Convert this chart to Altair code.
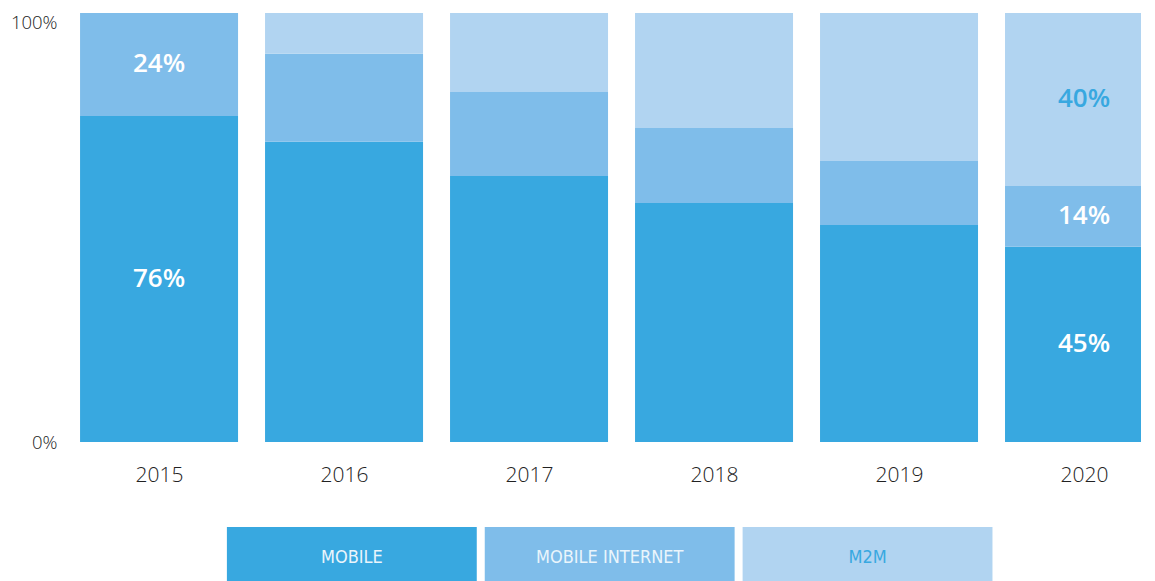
import altair as alt
import pandas as pd

years = ["2015", "2016", "2017", "2018", "2019", "2020"]
series = ["MOBILE", "MOBILE INTERNET", "M2M"]
mobile = [76, 70, 62, 55.7, 50.6, 45.5]
internet = [24, 20.5, 19.6, 17.5, 14.9, 14.2]
m2m = [0, 9.5, 18.4, 26.8, 34.5, 40.3]
labels_mobile = ["76%", "", "", "", "", "45%"]
labels_internet = ["24%", "", "", "", "", "14%"]
labels_m2m = ["", "", "", "", "", "40%"]
colors = ["#38A8E0", "#7FBDEA", "#B1D4F1"]

rows = []
for i, y in enumerate(years):
    for k, (s, vals, labs) in enumerate(zip(series, [mobile, internet, m2m],
                                            [labels_mobile, labels_internet, labels_m2m])):
        rows.append({"year": y, "idx": i, "series": s, "order": k, "value": vals[i], "label": labs[i]})
df = pd.DataFrame(rows)

year_expr = "[" + ",".join("'%s'" % y for y in years) + "][datum.value]"

color_scale = alt.Scale(domain=series, range=colors)
x_scale = alt.Scale(domain=[-0.503, 5.308], nice=False, zero=False, padding=0)
x_enc = alt.X("idx:Q", title=None, scale=x_scale,
              axis=alt.Axis(values=list(range(len(years))), labelExpr=year_expr,
                            grid=False, ticks=False, domain=False, labelPadding=22,
                            labelFontSize=21, labelFont="Open Sans", labelFontWeight=300,
                            labelColor="#222222", labelFlush=False))

base = alt.Chart(df).transform_stack(
    stack="value", as_=["y0", "y1"], groupby=["year"],
    sort=[alt.SortField("order", order="ascending")]
).transform_calculate(mid="(datum.y0 + datum.y1) / 2")

bars = base.mark_bar(clip=True, size=158).encode(
    x=x_enc,
    y=alt.Y("y0:Q", title=None, scale=alt.Scale(domain=[0, 100], nice=False),
            axis=alt.Axis(values=[0, 100], labelExpr="datum.value + '%'", grid=False,
                          ticks=False, domain=False, labelPadding=9, labelFontSize=18.5,
                          labelFont="Open Sans", labelFontWeight=300, labelColor="#222222",
                          labelBaseline=alt.ExprRef("datum.value == 100 ? 'top' : 'middle'"))),
    y2="y1:Q",
    color=alt.Color("series:N", scale=color_scale, legend=None),
)

texts = base.transform_filter("datum.label != ''").mark_text(
    font="Open Sans", fontSize=26, fontWeight=600, baseline="middle"
).encode(
    x=alt.X("idx:Q"),
    y=alt.Y("mid:Q"),
    text="label:N",
    color=alt.condition(alt.datum.series == "M2M", alt.value("#38A8E0"), alt.value("#FFFFFF")),
)

main = alt.layer(bars, texts).properties(width=1075, height=429)

leg_df = pd.DataFrame({"series": series})
leg_base = alt.Chart(leg_df).encode(
    x=alt.X("series:N", sort=series, title=None,
            scale=alt.Scale(paddingInner=0.031, paddingOuter=0.6, align=0.52), axis=None)
)
leg_rect = leg_base.mark_bar().encode(
    color=alt.Color("series:N", scale=color_scale, legend=None)
)
leg_text = leg_base.mark_text(font="DejaVu Sans Condensed", fontSize=18, baseline="middle").encode(
    y=alt.value(31),
    text="series:N",
    color=alt.condition(alt.datum.series == "M2M", alt.value("#38A8E0"), alt.value("#EAF5FC")),
)
legend = alt.layer(leg_rect, leg_text).properties(width=1075, height=54)

chart = alt.vconcat(main, legend, spacing=42).properties(
    padding={"left": 2, "top": 5, "right": 0, "bottom": 0},
    background="white",
).configure_view(stroke=None)

chart.save("out.html", embed_options={"renderer": "svg", "actions": False})
